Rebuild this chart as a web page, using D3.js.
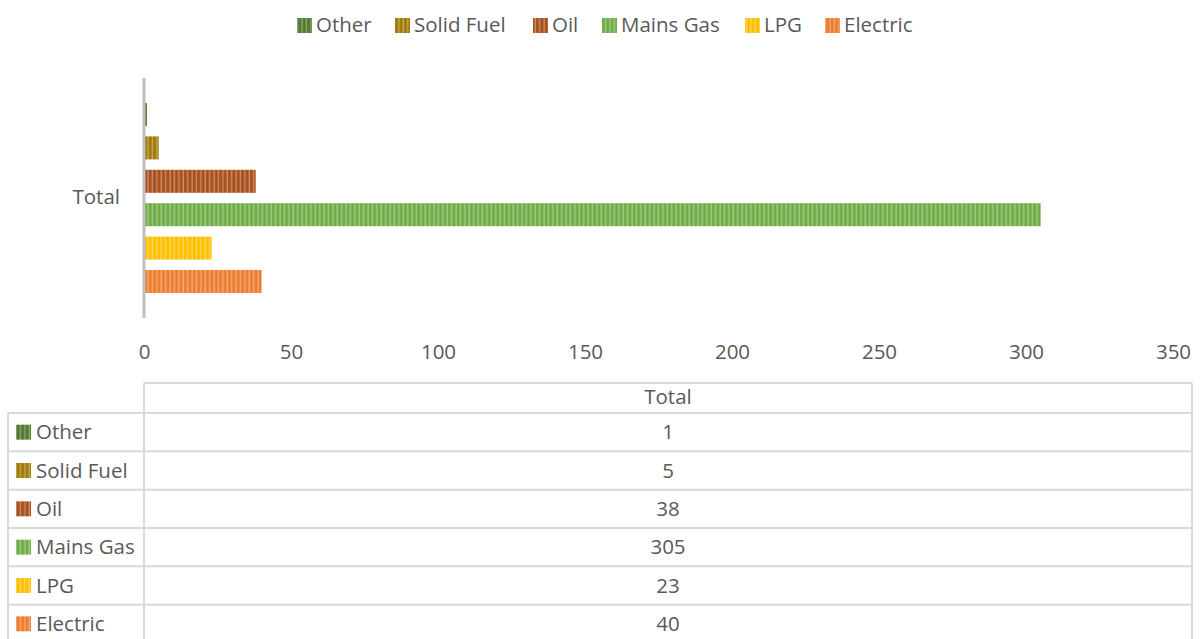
<!DOCTYPE html>
<html><head><meta charset="utf-8">
<script src="https://cdn.jsdelivr.net/npm/d3@7"></script>
<style>body{margin:0;background:#fff;} text{font-family:"Open Sans","Noto Sans",sans-serif;}</style>
</head><body>
<svg id="c" width="1202" height="639"></svg>
<script>
const categories = ["Total"];
const series = ["Other","Solid Fuel","Oil","Mains Gas","LPG","Electric"];
const values = [1,5,38,305,23,40];
const colors = ["#4F7A2F","#A07A06","#A9511C","#70AD47","#FFC000","#ED7D31"];
const tickValues = [0,50,100,150,200,250,300,350];

(function(){
const svg = d3.select("#c");
const defs = svg.append("defs");
colors.forEach((c,i)=>{
  const p = defs.append("pattern").attr("id","p"+i).attr("patternUnits","userSpaceOnUse")
    .attr("width",4.4).attr("height",10);
  p.append("rect").attr("width",4.4).attr("height",10).attr("fill",c);
  p.append("rect").attr("x",2.2).attr("width",1.4).attr("height",10).attr("fill","#fff").attr("opacity",0.35);
});

const fs = 20.5;
const x = d3.scaleLinear().domain([0,350]).range([144,1173]);
const y = d3.scaleBand().domain(series).range([78,318]).paddingInner(0.31).paddingOuter(0.748);
const tc = "#595959";

// legend
const legX = [297,395,533,602,745,825];
const lg = svg.append("g");
series.forEach((s,i)=>{
  lg.append("rect").attr("x",legX[i]).attr("y",18).attr("width",15).attr("height",15).attr("fill","url(#p"+i+")");
  lg.append("text").attr("x",legX[i]+19).attr("y",25).attr("dy","0.35em").attr("font-size",fs).attr("fill",tc).text(s);
});

// bars
svg.append("g").selectAll("rect").data(series).join("rect")
  .attr("x",x(0)+1).attr("y",d=>y(d)).attr("height",y.bandwidth())
  .attr("width",(d,i)=>x(values[i])-x(0)-1).attr("fill",(d,i)=>"url(#p"+i+")");

// axis line
svg.append("line").attr("x1",x(0)).attr("x2",x(0)).attr("y1",78).attr("y2",318).attr("stroke","#BFBFBF").attr("stroke-width",3);

// category label
svg.append("text").attr("x",120).attr("y",197).attr("dy","0.35em").attr("text-anchor","end").attr("font-size",fs).attr("fill",tc).text(categories[0]);

// x axis ticks
const ax = d3.axisBottom(x).tickValues(tickValues).tickSize(0).tickPadding(0);
const axg = svg.append("g").attr("transform","translate(0,352)").call(ax);
axg.select(".domain").remove();
axg.selectAll("text").attr("font-size",fs).attr("fill",tc).attr("dy","0.35em").attr("y",0)
  .style("font-family",'"Open Sans","Noto Sans",sans-serif');

// data table
const tb = svg.append("g");
const bc = "#D9D9D9";
const left=8, mid=144, right=1192, tTop=383, hdrB=413;
const rowY = d3.scaleBand().domain(series).range([413,643]);
tb.append("line").attr("x1",mid).attr("x2",right).attr("y1",tTop).attr("y2",tTop).attr("stroke",bc).attr("stroke-width",2);
tb.append("line").attr("x1",mid).attr("x2",mid).attr("y1",tTop).attr("y2",639).attr("stroke",bc).attr("stroke-width",2);
tb.append("line").attr("x1",right).attr("x2",right).attr("y1",tTop).attr("y2",639).attr("stroke",bc).attr("stroke-width",2);
tb.append("line").attr("x1",left).attr("x2",left).attr("y1",hdrB).attr("y2",639).attr("stroke",bc).attr("stroke-width",2);
tb.append("text").attr("x",(mid+right)/2).attr("y",397).attr("dy","0.35em").attr("text-anchor","middle").attr("font-size",fs).attr("fill",tc).text(categories[0]);
series.forEach((s,i)=>{
  const ry = rowY(s);
  tb.append("line").attr("x1",left).attr("x2",right).attr("y1",ry).attr("y2",ry).attr("stroke",bc).attr("stroke-width",2);
  const cy = ry + rowY.bandwidth()/2;
  tb.append("rect").attr("x",16).attr("y",cy-7.5).attr("width",15).attr("height",15).attr("fill","url(#p"+i+")");
  tb.append("text").attr("x",36).attr("y",cy).attr("dy","0.35em").attr("font-size",fs).attr("fill",tc).text(s);
  tb.append("text").attr("x",(mid+right)/2).attr("y",cy).attr("dy","0.35em").attr("text-anchor","middle").attr("font-size",fs).attr("fill",tc).text(values[i]);
});
})();
</script>
</body></html>
